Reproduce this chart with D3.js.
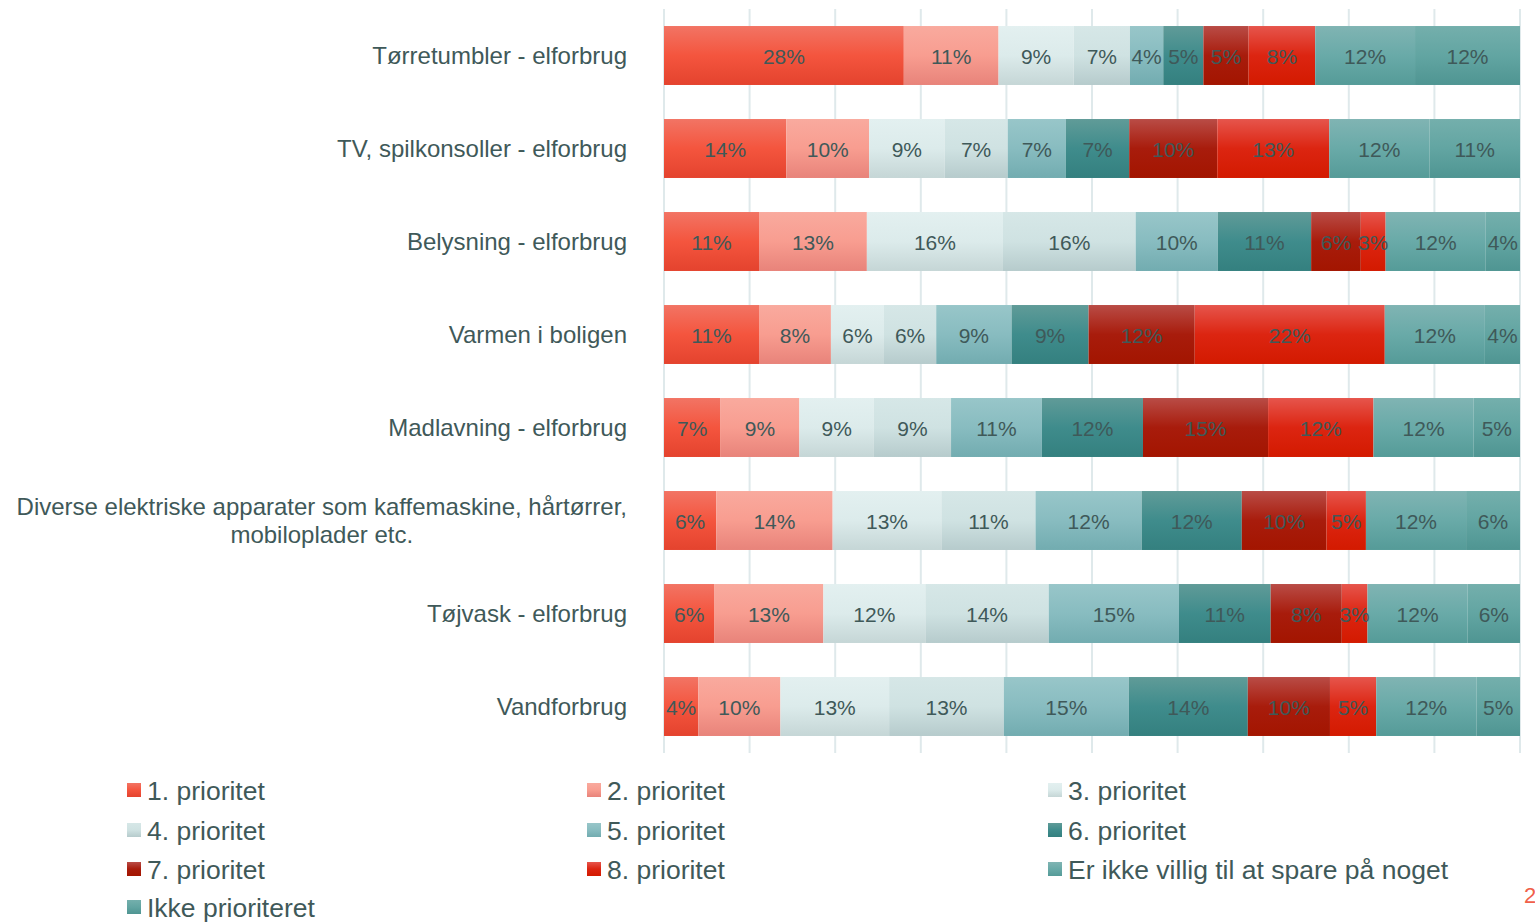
<!DOCTYPE html>
<html>
<head>
<meta charset="utf-8">
<script src="https://cdn.jsdelivr.net/npm/d3@7"></script>
<style>
  html, body { margin: 0; padding: 0; background: #fff; }
  svg { display: block; font-family: "Liberation Sans", Arial, sans-serif; }
</style>
</head>
<body>
<svg id="chart" width="1535" height="922"></svg>
<script>
// ---- data ----
const categories = [
  "Tørretumbler - elforbrug",
  "TV, spilkonsoller - elforbrug",
  "Belysning - elforbrug",
  "Varmen i boligen",
  "Madlavning - elforbrug",
  "Diverse elektriske apparater som kaffemaskine, hårtørrer,\nmobiloplader etc.",
  "Tøjvask - elforbrug",
  "Vandforbrug"
];
const seriesNames = [
  "1. prioritet", "2. prioritet", "3. prioritet", "4. prioritet", "5. prioritet",
  "6. prioritet", "7. prioritet", "8. prioritet", "Er ikke villig til at spare på noget",
  "Ikke prioriteret"
];
const prio1 = [28.1, 14.3, 11.1, 11.1, 6.6, 6.1, 5.9, 4.0];
const prio2 = [11.1, 9.7, 12.6, 8.4, 9.2, 13.6, 12.7, 9.6];
const prio3 = [8.8, 8.8, 15.9, 6.2, 8.7, 12.7, 11.9, 12.7];
const prio4 = [6.6, 7.4, 15.5, 6.1, 9.0, 11.0, 14.4, 13.4];
const prio5 = [3.9, 6.8, 9.6, 8.8, 10.6, 12.4, 15.2, 14.6];
const prio6 = [4.7, 7.4, 10.9, 9.0, 11.8, 11.7, 10.7, 13.9];
const prio7 = [5.3, 10.3, 5.8, 12.4, 14.6, 9.9, 8.3, 9.6];
const prio8 = [7.8, 13.1, 2.9, 22.2, 12.3, 4.6, 3.0, 5.4];
const erIkkeVillig = [11.7, 11.7, 11.7, 11.7, 11.7, 11.7, 11.7, 11.7];
const ikkePrioriteret = [12.3, 10.6, 4.0, 4.1, 5.4, 6.3, 6.1, 5.1];
const seriesValues = [prio1, prio2, prio3, prio4, prio5, prio6, prio7, prio8, erIkkeVillig, ikkePrioriteret];
const xTickValues = [0, 0.1, 0.2, 0.3, 0.4, 0.5, 0.6, 0.7, 0.8, 0.9, 1.0];

// gradient stops per series (top, middle, bottom)
const gradients = [
  ["#f27464", "#f4553e", "#e4432e"],
  ["#f9aa9e", "#f89d90", "#e8837a"],
  ["#e3f0f0", "#dcebeb", "#c5d6d6"],
  ["#d6e7e7", "#cfe2e2", "#b6cbcc"],
  ["#98c6c9", "#88bcc0", "#72acb0"],
  ["#609b98", "#3f8c8c", "#34807f"],
  ["#b94c46", "#a81c0c", "#a31500"],
  ["#e6554c", "#dc2511", "#d31a00"],
  ["#80b4b3", "#69aaa8", "#559b98"],
  ["#74afac", "#62a5a2", "#4f9592"]
];

// ---- build table ----
const table = categories.map((c, i) => {
  const row = { category: c };
  seriesNames.forEach((s, j) => { row[s] = seriesValues[j][i]; });
  return row;
});

const svg = d3.select("#chart");
const defs = svg.append("defs");
gradients.forEach((g, i) => {
  const lg = defs.append("linearGradient")
    .attr("id", "grad" + i).attr("x1", 0).attr("y1", 0).attr("x2", 0).attr("y2", 1);
  lg.append("stop").attr("offset", "0%").attr("stop-color", g[0]);
  lg.append("stop").attr("offset", "50%").attr("stop-color", g[1]);
  lg.append("stop").attr("offset", "100%").attr("stop-color", g[2]);
});

const x = d3.scaleLinear().domain([0, 1]).range([664, 1520]);
const y = d3.scaleBand().domain(categories).range([9, 753])
  .paddingInner(0.366).paddingOuter(0.183);

const textColor = "#3f5959";

// gridlines
svg.append("g").selectAll("line").data(xTickValues).join("line")
  .attr("x1", d => x(d)).attr("x2", d => x(d))
  .attr("y1", 9).attr("y2", 753)
  .attr("stroke", "#dfe9eb").attr("stroke-width", 2);

const stack = d3.stack().keys(seriesNames).offset(d3.stackOffsetExpand);
const stacked = stack(table);

const layers = svg.append("g").selectAll("g").data(stacked).join("g")
  .attr("fill", (d, i) => `url(#grad${i})`);

layers.selectAll("rect").data(d => d.map(p => Object.assign(p, { key: d.key }))).join("rect")
  .attr("x", d => x(d[0]))
  .attr("width", d => x(d[1]) - x(d[0]))
  .attr("y", d => y(d.data.category))
  .attr("height", y.bandwidth());

// value labels
const labelG = svg.append("g");
stacked.forEach(layer => {
  layer.forEach(p => {
    labelG.append("text")
      .attr("x", (x(p[0]) + x(p[1])) / 2)
      .attr("y", y(p.data.category) + y.bandwidth() / 2 + 1)
      .attr("text-anchor", "middle")
      .attr("dominant-baseline", "central")
      .attr("font-size", 21)
      .attr("fill", textColor)
      .text(Math.round(p.data[layer.key]) + "%");
  });
});

// category labels
const catG = svg.append("g");
categories.forEach(c => {
  const lines = c.split("\n");
  const cy = y(c) + y.bandwidth() / 2;
  const t = catG.append("text")
    .attr("font-size", 24)
    .attr("fill", textColor);
  if (lines.length === 1) {
    t.attr("x", 627).attr("y", cy).attr("text-anchor", "end")
      .attr("dominant-baseline", "central").text(c);
  } else {
    const lh = 28;
    lines.forEach((ln, k) => {
      t.append("tspan").attr("x", 0)
        .attr("y", cy + (k - (lines.length - 1) / 2) * lh)
        .attr("dominant-baseline", "central").text(ln);
    });
    const w = d3.max(t.selectAll("tspan").nodes(), n => n.getComputedTextLength());
    t.attr("text-anchor", "middle");
    t.selectAll("tspan").attr("x", 627 - w / 2);
  }
});

// legend
const legCols = [127, 587, 1048];
const legRows = [790, 830, 869, 907];
const leg = svg.append("g");
seriesNames.forEach((s, i) => {
  const cx = legCols[i % 3];
  const cy = legRows[Math.floor(i / 3)];
  leg.append("rect").attr("x", cx).attr("y", cy - 7).attr("width", 14).attr("height", 14)
    .attr("fill", `url(#grad${i})`);
  leg.append("text").attr("x", cx + 20).attr("y", cy + 1)
    .attr("dominant-baseline", "central")
    .attr("font-size", 26.5).attr("fill", textColor).text(s);
});

// page number
svg.append("text").attr("x", 1524).attr("y", 903)
  .attr("font-size", 22).attr("fill", "#f0604a").text("2");
</script>
</body>
</html>
